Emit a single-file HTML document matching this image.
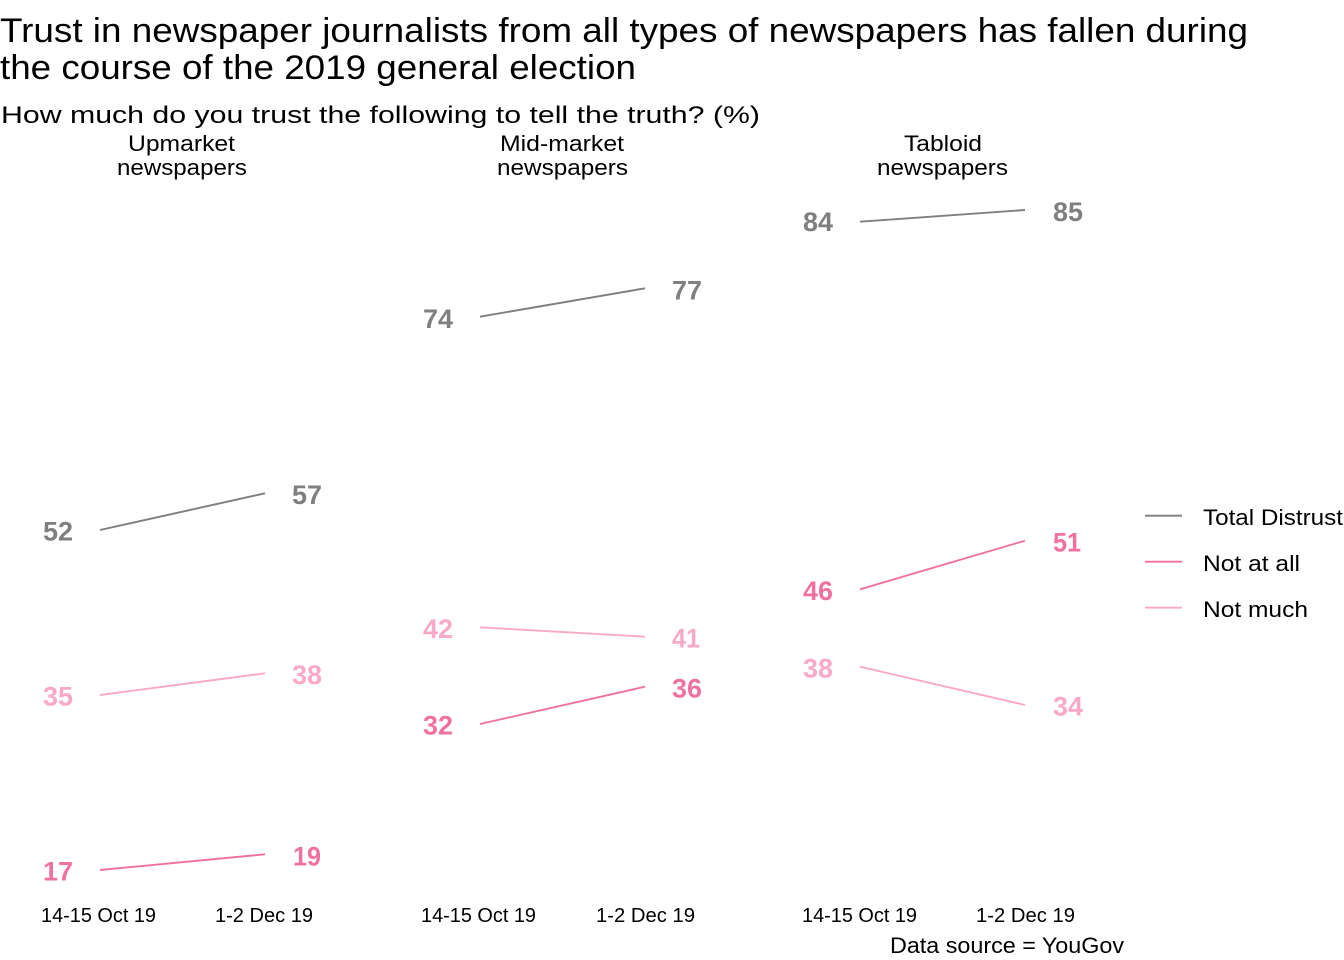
<!DOCTYPE html>
<html>
<head>
<meta charset="utf-8">
<style>
html,body{margin:0;padding:0;background:#fff;}
svg{display:block;}
text{font-family:"Liberation Sans",sans-serif;}
.t{fill:#000;}
.v{font-weight:bold;font-size:27px;}
.g{fill:#7f7f7f;}
.p{fill:#f0719f;}
.l{fill:#f9a8c7;}
</style>
</head>
<body>
<svg width="1344" height="960" viewBox="0 0 1344 960" xmlns="http://www.w3.org/2000/svg">
<rect width="1344" height="960" fill="#fff"/>
<!-- Titles -->
<text class="t" x="0" y="42" font-size="34" textLength="1248" lengthAdjust="spacingAndGlyphs">Trust in newspaper journalists from all types of newspapers has fallen during</text>
<text class="t" x="0" y="79" font-size="34" textLength="636" lengthAdjust="spacingAndGlyphs">the course of the 2019 general election</text>
<text class="t" x="1" y="123" font-size="24" textLength="759" lengthAdjust="spacingAndGlyphs">How much do you trust the following to tell the truth? (%)</text>

<!-- Facet headers -->
<text class="t" x="128" y="151" font-size="22" textLength="107" lengthAdjust="spacingAndGlyphs">Upmarket</text>
<text class="t" x="117" y="175" font-size="22" textLength="130" lengthAdjust="spacingAndGlyphs">newspapers</text>
<text class="t" x="500" y="151" font-size="22" textLength="124" lengthAdjust="spacingAndGlyphs">Mid-market</text>
<text class="t" x="497" y="175" font-size="22" textLength="131" lengthAdjust="spacingAndGlyphs">newspapers</text>
<text class="t" x="904" y="151" font-size="22" textLength="78" lengthAdjust="spacingAndGlyphs">Tabloid</text>
<text class="t" x="877" y="175" font-size="22" textLength="131" lengthAdjust="spacingAndGlyphs">newspapers</text>

<g stroke-width="1.9" fill="none">
<line x1="100" y1="530" x2="265" y2="493.3" stroke="#7f7f7f"/>
<line x1="100" y1="695" x2="265" y2="673.3" stroke="#f9a8c7"/>
<line x1="100" y1="870" x2="265" y2="854.3" stroke="#f0719f"/>
<line x1="480" y1="316.7" x2="645" y2="288.3" stroke="#7f7f7f"/>
<line x1="480" y1="627.3" x2="645" y2="636.7" stroke="#f9a8c7"/>
<line x1="480" y1="724" x2="645" y2="686.7" stroke="#f0719f"/>
<line x1="860" y1="221.7" x2="1025" y2="210" stroke="#7f7f7f"/>
<line x1="860" y1="589.3" x2="1025" y2="540.7" stroke="#f0719f"/>
<line x1="860" y1="666.7" x2="1025" y2="705" stroke="#f9a8c7"/>
</g>

<!-- Value labels -->
<g text-anchor="middle">
<text class="v g" x="58" y="540.7" textLength="30" lengthAdjust="spacingAndGlyphs">52</text>
<text class="v g" x="307" y="504" textLength="30" lengthAdjust="spacingAndGlyphs">57</text>
<text class="v l" x="58" y="705.7" textLength="30" lengthAdjust="spacingAndGlyphs">35</text>
<text class="v l" x="307" y="684" textLength="30" lengthAdjust="spacingAndGlyphs">38</text>
<text class="v p" x="58" y="880.7" textLength="30" lengthAdjust="spacingAndGlyphs">17</text>
<text class="v p" x="307" y="865.5" textLength="28" lengthAdjust="spacingAndGlyphs">19</text>

<text class="v g" x="438" y="328" textLength="30" lengthAdjust="spacingAndGlyphs">74</text>
<text class="v g" x="687" y="299.5" textLength="30" lengthAdjust="spacingAndGlyphs">77</text>
<text class="v l" x="438" y="638" textLength="30" lengthAdjust="spacingAndGlyphs">42</text>
<text class="v l" x="686" y="647.5" textLength="28" lengthAdjust="spacingAndGlyphs">41</text>
<text class="v p" x="438" y="734.7" textLength="30" lengthAdjust="spacingAndGlyphs">32</text>
<text class="v p" x="687" y="697.5" textLength="30" lengthAdjust="spacingAndGlyphs">36</text>

<text class="v g" x="818" y="231" textLength="30" lengthAdjust="spacingAndGlyphs">84</text>
<text class="v g" x="1068" y="221" textLength="30" lengthAdjust="spacingAndGlyphs">85</text>
<text class="v p" x="818" y="600" textLength="30" lengthAdjust="spacingAndGlyphs">46</text>
<text class="v p" x="1067" y="551.5" textLength="28" lengthAdjust="spacingAndGlyphs">51</text>
<text class="v l" x="818" y="677.5" textLength="30" lengthAdjust="spacingAndGlyphs">38</text>
<text class="v l" x="1068" y="715.7" textLength="30" lengthAdjust="spacingAndGlyphs">34</text>
</g>

<!-- X axis labels -->
<text class="t" x="41" y="922" font-size="20" textLength="115" lengthAdjust="spacingAndGlyphs">14-15 Oct 19</text>
<text class="t" x="215" y="922" font-size="20" textLength="98" lengthAdjust="spacingAndGlyphs">1-2 Dec 19</text>
<text class="t" x="421" y="922" font-size="20" textLength="115" lengthAdjust="spacingAndGlyphs">14-15 Oct 19</text>
<text class="t" x="596" y="922" font-size="20" textLength="99" lengthAdjust="spacingAndGlyphs">1-2 Dec 19</text>
<text class="t" x="802" y="922" font-size="20" textLength="115" lengthAdjust="spacingAndGlyphs">14-15 Oct 19</text>
<text class="t" x="976" y="922" font-size="20" textLength="99" lengthAdjust="spacingAndGlyphs">1-2 Dec 19</text>

<!-- Data source -->
<text class="t" x="890" y="953" font-size="22" textLength="234" lengthAdjust="spacingAndGlyphs">Data source = YouGov</text>

<!-- Legend -->
<line x1="1145" y1="515.7" x2="1182" y2="515.7" stroke="#7f7f7f" stroke-width="1.9"/>
<line x1="1145" y1="561.7" x2="1182" y2="561.7" stroke="#f0719f" stroke-width="1.9"/>
<line x1="1145" y1="607.7" x2="1182" y2="607.7" stroke="#f9a8c7" stroke-width="1.9"/>
<text class="t" x="1203" y="525" font-size="22" textLength="140" lengthAdjust="spacingAndGlyphs">Total Distrust</text>
<text class="t" x="1203" y="571" font-size="22" textLength="97" lengthAdjust="spacingAndGlyphs">Not at all</text>
<text class="t" x="1203" y="617" font-size="22" textLength="105" lengthAdjust="spacingAndGlyphs">Not much</text>
</svg>
</body>
</html>
